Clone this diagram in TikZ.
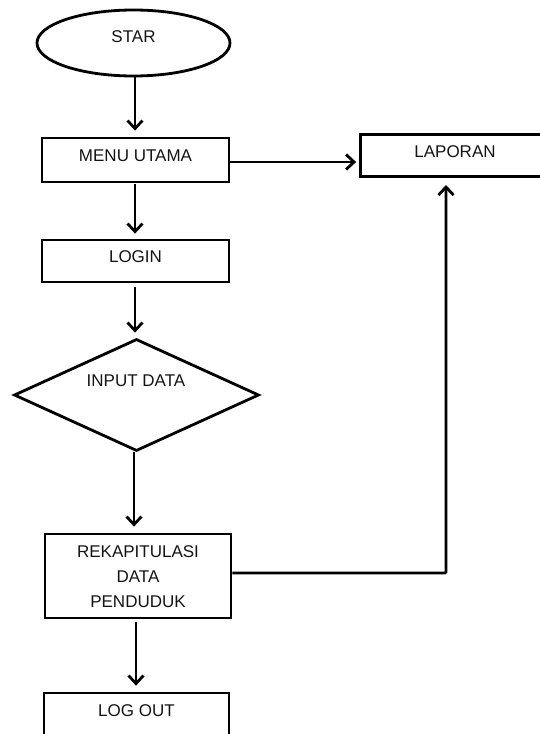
\documentclass[tikz,border=0pt]{standalone}
\usepackage{fontspec}
\setmainfont{Liberation Sans}
\usetikzlibrary{shapes.geometric,arrows.meta}
\begin{document}
\begin{tikzpicture}[x=1bp,y=-1bp,
  line width=2.8bp,
  box/.style={draw,rectangle,inner sep=0pt,minimum width=#1},
  oval/.style={draw,ellipse,inner sep=0pt},
  decide/.style={draw,diamond,inner sep=0pt},
  lbl/.style={font=\fontsize{17bp}{20bp}\selectfont,text=black!92,inner sep=0pt,align=center},
  flow/.style={-{Straight Barb[length=8bp,width=15bp,line width=2.8bp]}},
]
\useasboundingbox (0,0) rectangle (540,734);
\clip (0,0) rectangle (540,734);

% shapes
\node[oval,minimum width=193bp,minimum height=66bp] (star) at (133.5,43) {};
\node[box=187bp,minimum height=44bp] (menu) at (135.5,160) {};
\node[box=187bp,minimum height=42bp] (laporan) at (454,155.5) {};
\node[box=187bp,minimum height=42bp] (login) at (135.5,261) {};
\node[decide,minimum width=245bp,minimum height=112bp] (input) at (136.5,395) {};
\node[box=186bp,minimum height=84bp] (rekap) at (138,576) {};
\node[box=185bp,minimum height=52bp] (logout) at (136.5,719) {};

% labels
\node[lbl] (tstar) at (133.5,37) {STAR};
\node[lbl] (tmenu) at (135.5,156) {MENU UTAMA};
\node[lbl] (tlap) at (455,152) {LAPORAN};
\node[lbl] (tlogin) at (135.5,257) {LOGIN};
\node[lbl] (tinput) at (136,381) {INPUT DATA};
\node[lbl,font=\fontsize{17bp}{25bp}\selectfont] (trekap) at (138,577) {REKAPITULASI\\DATA\\PENDUDUK};
\node[lbl] (tlogout) at (136.5,711) {LOG OUT};

% connectors
\coordinate (lapin) at (446,177);
\draw[flow,shorten >=6bp] (star.south -| 135,0) -- (menu.north -| 135,0);
\draw[flow,shorten >=3bp] ([yshift=-2bp]menu.east) -- ([yshift=-2bp]menu.east -| laporan.west);
\draw[flow,shorten <=1bp,shorten >=5bp] (menu.south -| 135,0) -- (login.north -| 135,0);
\draw[flow,shorten <=4bp,shorten >=5bp] (login.south -| 135,0) -- (input.north -| 135,0);
\draw[flow,shorten >=6bp] (input.south -| 134,0) -- (rekap.north -| 134,0);
\draw[flow,shorten <=3bp,shorten >=6bp] (rekap.south -| 136,0) -- (logout.north -| 136,0);
\draw[flow,shorten >=8bp,rounded corners=1bp] ([yshift=3bp]rekap.east) -| (lapin);
\end{tikzpicture}
\end{document}
